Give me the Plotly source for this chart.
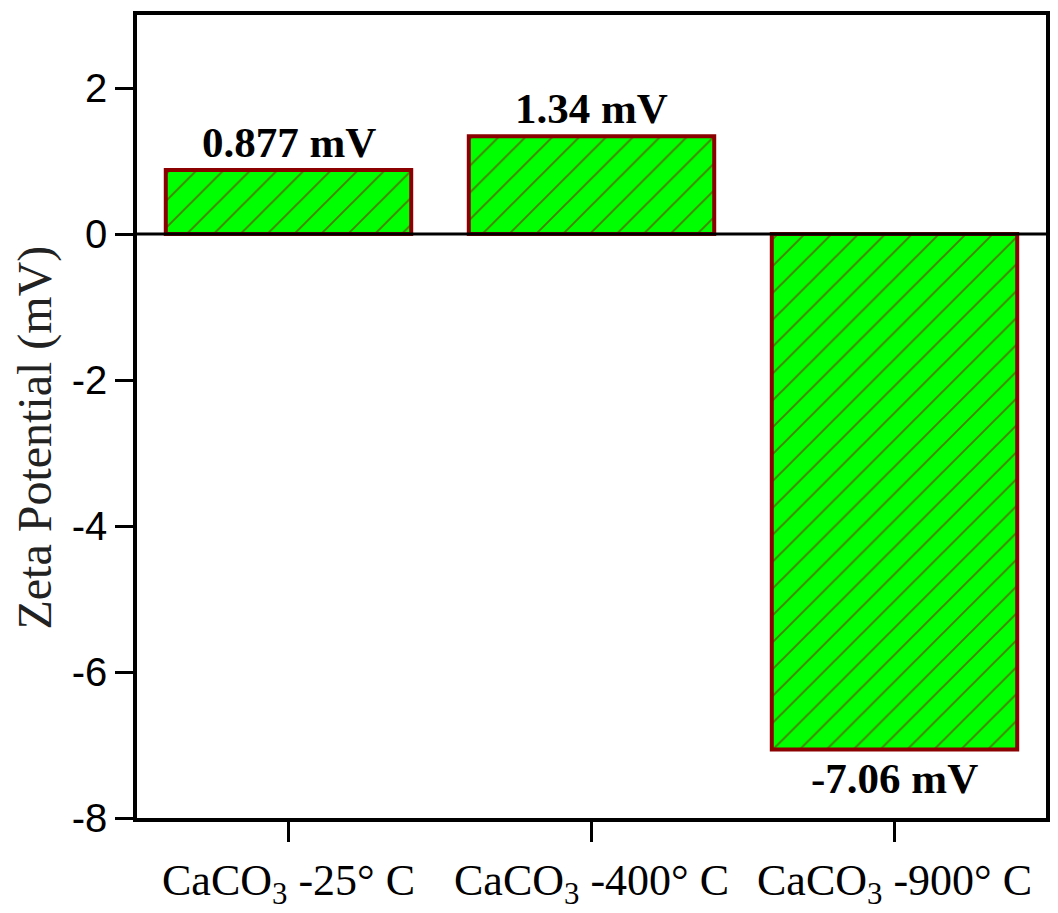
import plotly.graph_objects as go

# Zeta potential of CaCO3 samples treated at different temperatures
categories = ["CaCO<sub>3</sub> -25° C", "CaCO<sub>3</sub> -400° C", "CaCO<sub>3</sub> -900° C"]
zeta_mv = [0.877, 1.34, -7.06]
y_tick_vals = [2, 0, -2, -4, -6, -8]
y_tick_text = ["2", "0", "-2", "-4", "-6", "-8"]

fill_green = "#00FF00"
edge_red = "#8B0000"

fig = go.Figure()
fig.add_trace(go.Bar(
    x=categories,
    y=zeta_mv,
    width=0.81,
    marker=dict(
        color=fill_green,
        line=dict(color=edge_red, width=4),
        pattern=dict(shape="/", fgcolor=edge_red, size=19, solidity=0.1),
    ),
    showlegend=False,
))

# value labels above positive bars and below negative bars
for cat, v in zip(categories, zeta_mv):
    fig.add_annotation(
        x=cat, y=v, text=f"<b>{v:g} mV</b>", showarrow=False,
        yanchor="bottom" if v >= 0 else "top",
        yshift=2 if v >= 0 else -4,
        font=dict(family="Liberation Serif", size=43, color="black"),
    )

# zero reference line drawn over the bar bases
fig.add_shape(type="line", xref="paper", x0=0, x1=1, y0=0, y1=0,
              line=dict(color="black", width=3), layer="above")

fig.add_annotation(
    text="Zeta Potential (mV)", xref="paper", yref="paper",
    x=-0.112, y=0.474, xanchor="center", yanchor="middle",
    textangle=-90, showarrow=False,
    font=dict(family="Liberation Serif", size=48, color="#222222"),
)

fig.update_layout(
    width=1058, height=913,
    margin=dict(l=137, r=12, t=15, b=95),
    paper_bgcolor="white", plot_bgcolor="white",
)
fig.update_xaxes(
    range=[-0.5, 2.5], showline=True, linecolor="black", linewidth=3.5,
    mirror=True, ticks="outside", ticklen=20, tickwidth=3, tickcolor="black",
    showgrid=False, automargin=False,
    tickfont=dict(family="Liberation Serif", size=44, color="black"),
)
fig.update_yaxes(
    range=[-8, 3], tickvals=y_tick_vals, ticktext=y_tick_text,
    showline=True, linecolor="black", linewidth=3.5, mirror=True,
    ticks="outside", ticklen=18, tickwidth=3, tickcolor="black",
    showgrid=False, zeroline=False, automargin=False,
    tickfont=dict(family="Liberation Sans", size=40, color="black"),
)

fig.write_html("out.html")
